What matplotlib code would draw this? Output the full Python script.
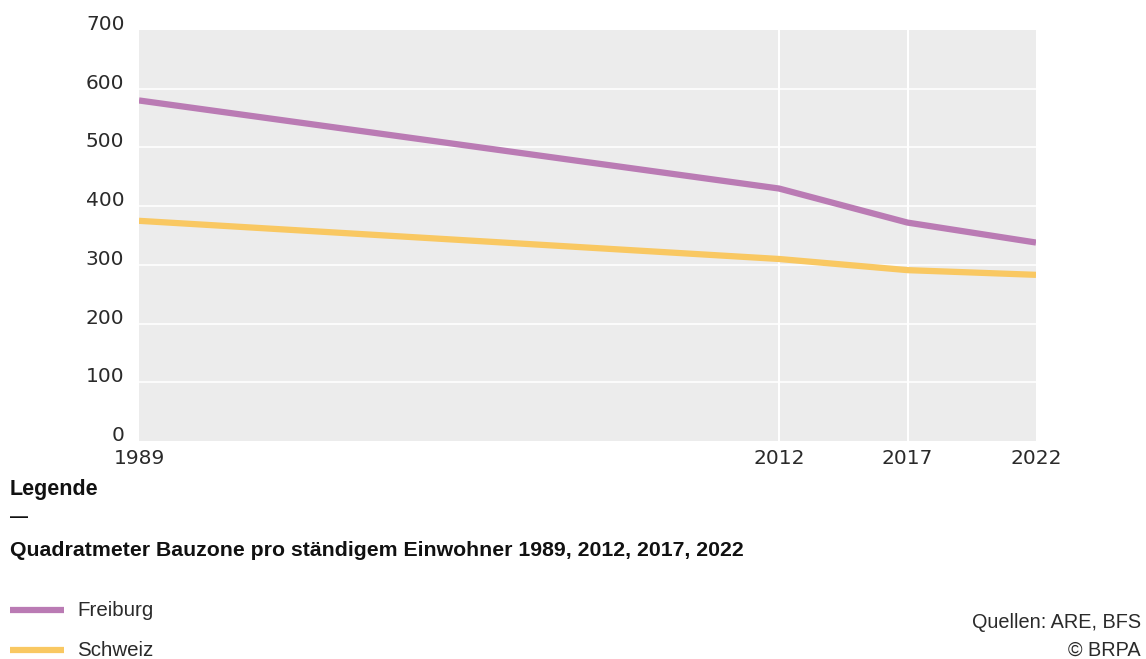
import matplotlib
matplotlib.use('Agg')
import numpy as np
import matplotlib.pyplot as plt

years = [1989, 2012, 2017, 2022]
freiburg = [580, 430, 372, 338]
schweiz = [375, 310, 291, 283]
y_ticks = [0, 100, 200, 300, 400, 500, 600, 700]
series_names = ["Freiburg", "Schweiz"]
colors = ["#ba7bb4", "#f9c862"]

plt.rcParams['font.family'] = ['Liberation Sans', 'DejaVu Sans']

fig = plt.figure(figsize=(11.46, 6.59), dpi=100)
W, H = 1146, 659
ax = fig.add_axes([139 / W, 1 - 441 / H, (1036 - 139) / W, (441 - 30) / H])
ax.set_facecolor('#ececec')

# the source chart spaces 1989 a bit further out than a linear year axis would
anchor_years = [1989, 2012, 2022]
anchor_pos = [0.0, 0.7135, 1.0]
ax.set_xscale('function', functions=(lambda x: np.interp(x, anchor_years, anchor_pos),
                                     lambda p: np.interp(p, anchor_pos, anchor_years)))

for yv in y_ticks[1:-1]:
    ax.axhline(yv, color='white', lw=1.2, zorder=1)
for xv in years[1:-1]:
    ax.axvline(xv, color='white', lw=1.5, zorder=1)

for vals, name, c in zip([freiburg, schweiz], series_names, colors):
    ax.plot(years, vals, color=c, lw=4.5, solid_capstyle='butt', zorder=3, label=name)

ax.set_xlim(1989, 2022)
ax.set_ylim(0, 700)
for s in ax.spines.values():
    s.set_visible(False)
tick_font = dict(fontsize=14.5, color='#2a2a2a', family='DejaVu Sans')
ax.set_xticks(years)
ax.set_xticklabels([str(y) for y in years], **tick_font)
ax.set_xticks([], minor=True)
ax.set_yticks(y_ticks)
ax.set_yticklabels([str(v) for v in y_ticks], va='baseline', **tick_font)
ax.tick_params(axis='y', length=0, pad=10.5)
ax.tick_params(axis='x', length=0, pad=6)

# legend block
fig.text(10 / W, 1 - 489 / H, "Legende", fontsize=15.5, weight='bold', va='center', color='#111111')
fig.text(10 / W, 1 - 518 / H, "\u2014", fontsize=13, weight='bold', va='center', color='#111111')
fig.text(10 / W, 1 - 550 / H, "Quadratmeter Bauzone pro ständigem Einwohner 1989, 2012, 2017, 2022",
         fontsize=15.3, weight='bold', va='center', color='#111111')
for i, (name, c) in enumerate(zip(series_names, colors)):
    yy = 1 - (610 + 40 * i) / H
    fig.add_artist(plt.Line2D([10 / W, 64 / W], [yy, yy], color=c, lw=4.5, solid_capstyle='butt'))
    fig.text(77 / W, yy, name, fontsize=14.8, va='center', color='#2a2a2a')

fig.text(1141 / W, 1 - 622 / H, "Quellen: ARE, BFS", fontsize=14.3, ha='right', va='center', color='#2a2a2a')
fig.text(1141 / W, 1 - 650 / H, "\u00a9 BRPA", fontsize=14.3, ha='right', va='center', color='#2a2a2a')

fig.savefig('out.png', dpi=100)
